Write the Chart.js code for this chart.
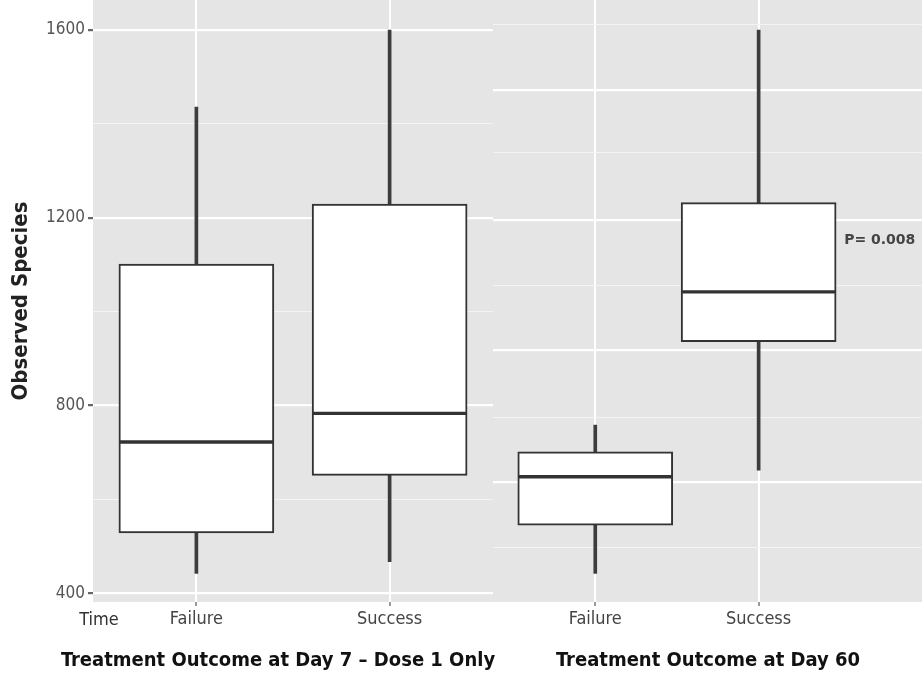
<!DOCTYPE html>
<html>
<head>
<meta charset="utf-8">
<script src="https://cdn.jsdelivr.net/npm/chart.js@4.4.1/dist/chart.umd.min.js"></script>
<style>
  body { margin: 0; background: #fff; }
  #wrap { position: relative; width: 922px; height: 682px; overflow: hidden; }
  .panel { position: absolute; top: 0; height: 682px; }
  #left { left: 0; width: 515px; }
  #right { left: 493px; width: 429px; }
</style>
</head>
<body>
<div id="wrap">
  <div class="panel" id="left"><canvas id="day7"></canvas></div>
  <div class="panel" id="right"><canvas id="day60"></canvas></div>
</div>
<script>
const categories = ['Failure', 'Success'];

// Treatment Outcome at Day 7 - Dose 1 Only
const d7Min = [442, 467];
const d7Q1 = [528, 651];
const d7Median = [722, 783];
const d7Q3 = [1101, 1229];
const d7Max = [1436, 1600];

// Treatment Outcome at Day 60
const d60Min = [442, 662];
const d60Q1 = [545, 936];
const d60Median = [648, 1042];
const d60Q3 = [701, 1232];
const d60Max = [758, 1600];

const yMajor = [400, 800, 1200, 1600];
const yMinor = [600, 1000, 1400];
// the right panel was pasted in with its own grid
const rightMajor = [637, 918, 1195, 1472];
const rightMinor = [498, 775, 1056, 1338, 1611];

const pValueText = 'P= 0.008';
const pValueAt = 1152;

const narrow = "'Liberation Sans Narrow', 'DejaVu Sans Condensed', 'Roboto Condensed', 'Liberation Sans', sans-serif";
const BG = '#e5e5e5';
const LINE = '#333333';

function pairs(lo, hi) {
    return categories.map((c, i) => ({ x: i + 1, y: [lo[i], hi[i]] }));
}

function boxDatasets(mn, q1, med, q3, mx) {
    const box = {
        backgroundColor: '#ffffff',
        borderColor: LINE,
        borderWidth: 2,
        borderSkipped: false,
        barThickness: 155,
        grouped: false
    };
    const whisker = {
        backgroundColor: '#3c3c3c',
        borderWidth: 0,
        barThickness: 3,
        grouped: false
    };
    return [
        Object.assign({ data: pairs(q1, med) }, box),
        Object.assign({ data: pairs(med, q3) }, box),
        Object.assign({ data: pairs(mn, q1) }, whisker),
        Object.assign({ data: pairs(q3, mx) }, whisker)
    ];
}

const panelBg = {
    id: 'panelBg',
    beforeDraw(chart) {
        const a = chart.chartArea;
        const ctx = chart.ctx;
        ctx.save();
        ctx.fillStyle = BG;
        ctx.fillRect(a.left, a.top, a.right - a.left, a.bottom - a.top);
        ctx.restore();
    }
};

function xScale(min, max) {
    return {
        type: 'linear',
        min: min,
        max: max,
        offset: false,
        afterBuildTicks: scale => { scale.ticks = categories.map((c, i) => ({ value: i + 1 })); },
        afterFit: scale => { scale.height = 80; },
        border: { display: false },
        grid: { offset: false, color: '#ffffff', lineWidth: 2, tickColor: '#999', tickLength: 4 },
        ticks: {
            padding: 3,
            color: '#444',
            font: { family: narrow, size: 18 },
            callback: value => categories[value - 1] || ''
        }
    };
}

function gridStyle(majors) {
    return {
        color: ctx => majors.includes(ctx.tick && ctx.tick.value) ? '#ffffff' : '#f4f4f4',
        lineWidth: ctx => majors.includes(ctx.tick && ctx.tick.value) ? 2.2 : 1,
        tickColor: ctx => majors.includes(ctx.tick && ctx.tick.value) ? '#666' : 'rgba(0,0,0,0)',
        tickLength: 5
    };
}

function drawText(ctx, text, x, y, font, color, align) {
    ctx.save();
    ctx.font = font;
    ctx.fillStyle = color;
    ctx.textAlign = align || 'center';
    ctx.textBaseline = 'middle';
    ctx.fillText(text, x, y);
    ctx.restore();
}

new Chart(document.getElementById('day7'), {
    type: 'bar',
    data: { datasets: boxDatasets(d7Min, d7Q1, d7Median, d7Q3, d7Max) },
    options: {
        responsive: true,
        maintainAspectRatio: false,
        animation: false,
        layout: { padding: { right: 22 } },
        plugins: { legend: { display: false }, tooltip: { enabled: false } },
        scales: {
            x: xScale(0.465, 2.535),
            y: {
                min: 381,
                max: 1664,
                afterBuildTicks: scale => {
                    scale.ticks = yMajor.concat(yMinor).sort((a, b) => a - b).map(v => ({ value: v }));
                },
                afterFit: scale => {
                    scale.width = 93;
                    scale.paddingTop = 0;
                    scale.paddingBottom = 0;
                },
                border: { display: false },
                grid: gridStyle(yMajor),
                ticks: {
                    padding: 3,
                    color: '#555',
                    font: { family: narrow, size: 17 },
                    callback: value => yMajor.includes(value) ? String(value) : ''
                },
                title: {
                    display: true,
                    text: 'Observed Species',
                    color: '#222',
                    font: { family: narrow, size: 22, weight: 'bold' },
                    padding: { top: 8, bottom: 0 }
                }
            }
        }
    },
    plugins: [panelBg, {
        id: 'day7Text',
        afterDraw(chart) {
            const ctx = chart.ctx;
            drawText(ctx, 'Time', 99, 620, '18px ' + narrow, '#333');
            drawText(ctx, 'Treatment Outcome at Day 7 \u2013 Dose 1 Only', 278, 661,
                'bold 20px ' + narrow, '#111');
        }
    }]
});

new Chart(document.getElementById('day60'), {
    type: 'bar',
    data: { datasets: boxDatasets(d60Min, d60Q1, d60Median, d60Q3, d60Max) },
    options: {
        responsive: true,
        maintainAspectRatio: false,
        animation: false,
        layout: { padding: 0 },
        plugins: { legend: { display: false }, tooltip: { enabled: false } },
        scales: {
            x: xScale(0.374, 3.0),
            y: {
                min: 381,
                max: 1664,
                afterBuildTicks: scale => {
                    scale.ticks = rightMajor.concat(rightMinor).sort((a, b) => a - b).map(v => ({ value: v }));
                },
                afterFit: scale => {
                    scale.width = 0;
                    scale.paddingTop = 0;
                    scale.paddingBottom = 0;
                },
                border: { display: false },
                grid: Object.assign(gridStyle(rightMajor), { drawTicks: false }),
                ticks: { display: false }
            }
        }
    },
    plugins: [panelBg, {
        id: 'day60Text',
        afterDraw(chart) {
            const ctx = chart.ctx;
            const x = chart.scales.x.getPixelForValue(2) + 155 / 2 + 8;
            const y = chart.scales.y.getPixelForValue(pValueAt);
            drawText(ctx, pValueText, x, y, 'bold 14px "DejaVu Sans", sans-serif', '#444', 'left');
            drawText(ctx, 'Treatment Outcome at Day 60', 215, 661, 'bold 20px ' + narrow, '#111');
        }
    }]
});
</script>
</body>
</html>
